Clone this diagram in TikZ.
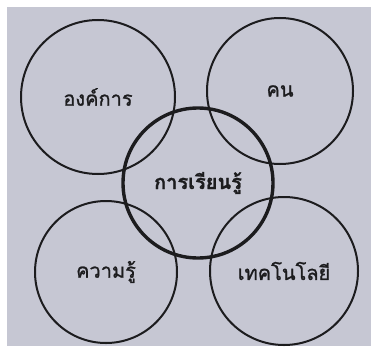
\documentclass[tikz,border=0pt]{standalone}
\usepackage{fontspec}
\newfontfamily\thaifont[Script=Thai,FakeBold=1.2]{Loma}
\definecolor{paper}{RGB}{198,199,211}
\definecolor{ink}{RGB}{28,28,30}

\begin{document}
\begin{tikzpicture}[x=1pt, y=1pt,
    ring/.style={circle, draw=ink, line width=2pt, inner sep=0pt,
                 font=\thaifont\fontsize{20}{22}\selectfont, text=ink},
    hub/.style={ring, line width=3.4pt, font=\thaifont\bfseries\fontsize{20}{22}\selectfont}]
    % Page and background
    \useasboundingbox (0,0) rectangle (371,346);
    \fill[paper] (7,0) rectangle (371,339);

    % Outer circles
    \node[ring, minimum size=154] (org)  at (98,249)  {องค์การ};
    \node[ring, minimum size=146] (ppl)  at (280,255) {คน};
    \node[ring, minimum size=142] (know) at (106,74)  {ความรู้};
    \node[ring, minimum size=148] (tech) at (284,75)  {เทคโนโลยี};

    % Central circle on top
    \node[hub, minimum size=150] (learn) at (198,163) {การเรียนรู้};
\end{tikzpicture}
\end{document}
